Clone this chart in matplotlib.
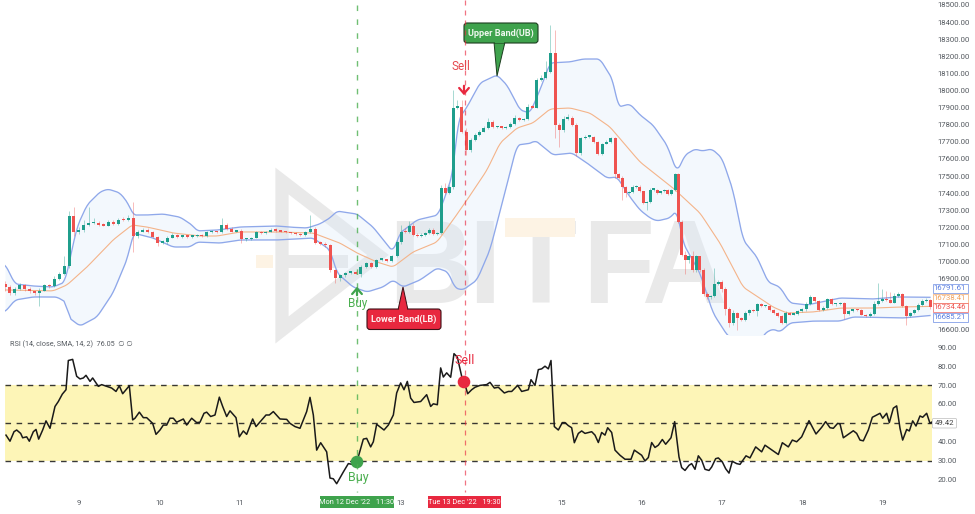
import numpy as np
import matplotlib
matplotlib.use("Agg")
import matplotlib.pyplot as plt
from matplotlib.patches import Polygon, Rectangle, FancyBboxPatch, Circle

plt.rcParams['font.family'] = ['Roboto', 'DejaVu Sans']

# ---- data (time unit: 1/241 of a day, day 9 at 237) ----
day_labels = ['9', '10', '11', '13', '15', '16', '17', '18', '19']
day_ticks = [237, 478, 719, 1201, 1685, 1925, 2166, 2407, 2648]

price_ticks = [16600, 16900, 17000, 17100, 17200, 17300, 17400, 17500, 17600, 17700, 17800,
               17900, 18000, 18100, 18200, 18300, 18400, 18500]
rsi_ticks = [20, 30, 40, 60, 70, 80, 90]

first_open = 16870
closes = [
 16850,16815,16840,16860,16840,16825,16815,16830,16860,16855,
 16900,16930,16975,17265,17170,17185,17215,17225,17225,17215,
 17210,17230,17220,17245,17240,17255,17150,17175,17185,17170,
 17145,17110,17115,17140,17155,17145,17150,17145,17150,17155,
 17150,17170,17175,17172,17215,17190,17175,17180,17130,17130,
 17140,17170,17165,17175,17185,17180,17175,17170,17165,17160,
 17155,17170,17190,17110,17105,17095,16950,16905,16920,16935,
 16935,16930,16970,16990,16970,17010,17010,17005,17030,17115,
 17175,17170,17205,17155,17150,17155,17165,17185,17160,17165,
 17430,17400,17435,17900,17905,17760,17650,17710,17740,17760,
 17780,17815,17785,17790,17780,17785,17805,17840,17825,17835,
 17905,17900,18060,18075,18110,18220,17800,17770,17835,17840,
 17800,17635,17720,17730,17730,17700,17630,17690,17700,17720,
 17510,17490,17435,17400,17405,17435,17435,17410,17340,17350,
 17420,17420,17400,17410,17420,17395,17420,17510,17230,17040,
 17010,17030,16950,17030,16950,16810,16790,16800,16870,16880,
 16840,16725,16640,16700,16670,16660,16700,16715,16710,16750,
 16740,16740,16715,16700,16680,16640,16700,16690,16695,16710,
 16720,16750,16790,16770,16715,16730,16780,16750,16750,16760,
 16695,16710,16720,16715,16690,16680,16695,16750,16770,16780,
 16775,16760,16800,16810,16740,16680,16700,16715,16745,16770,
 16775,16735]
wick_up = [
 15,10,10,15,10,10,5,15,10,10,
 15,10,60,30,55,15,25,95,30,10,
 10,15,10,10,15,15,95,10,10,10,
 10,5,10,10,10,5,5,5,5,5,
 5,10,10,5,40,10,10,5,10,5,
 5,10,10,5,10,10,5,5,5,5,
 5,10,80,10,10,10,5,5,5,5,
 5,10,10,10,5,5,5,5,10,10,
 40,20,30,20,10,10,10,10,10,10,
 20,30,15,100,40,40,20,10,10,10,
 10,25,10,5,5,5,10,15,5,5,
 15,10,15,15,60,160,135,10,15,20,
 10,10,10,10,5,5,5,5,10,10,
 10,10,10,5,10,10,10,10,5,5,
 10,5,5,5,5,5,5,10,10,10,
 20,10,30,10,5,10,10,5,90,10,
 10,10,10,15,5,5,10,10,5,10,
 5,5,5,5,5,5,10,5,5,5,
 10,15,15,5,5,10,5,5,5,5,
 5,5,5,5,5,5,10,20,105,60,
 50,45,15,10,5,5,5,10,15,10,
 10,5]
wick_down = [
 20,10,10,5,10,10,10,75,5,10,
 5,5,10,10,20,10,10,5,5,5,
 5,5,5,5,5,5,95,15,5,5,
 5,20,10,10,5,5,5,5,5,5,
 5,5,5,5,5,5,5,5,20,10,
 5,5,5,5,5,5,5,5,5,5,
 5,5,5,10,10,10,10,30,20,10,
 5,5,20,5,10,5,5,5,5,5,
 10,5,5,5,5,5,5,5,5,5,
 5,5,5,10,10,10,30,10,5,5,
 5,5,5,5,5,5,5,5,5,5,
 5,5,5,5,5,5,80,100,10,10,
 10,20,10,5,5,5,5,5,5,5,
 20,10,75,20,5,5,5,5,5,40,
 5,5,5,5,5,5,5,5,5,10,
 80,20,10,10,10,10,10,10,5,5,
 20,40,20,10,70,10,10,10,5,30,
 5,5,5,5,5,5,5,5,5,10,
 5,10,5,5,5,5,5,5,10,5,
 30,5,5,5,5,5,5,5,5,5,
 5,5,5,5,5,50,5,5,5,5,
 5,10]
bar_anchor_index = [0, 13, 26, 66, 79, 90, 93, 115, 116, 130, 147, 148, 162, 181, 196, 211]
bar_anchor_time = [15, 207, 399, 990, 1191, 1323, 1359, 1650, 1665, 1845, 2025, 2034, 2187, 2418, 2610, 2790]

upper_t = [15,45,99,159,195,204,231,261,300,324,360,384,399,441,489,540,576,591,651,720,831,861,921,960,
           990,1011,1071,1119,1179,1200,1251,1314,1335,1359,1374,1401,1440,1491,1521,1560,1590,1620,1650,
           1710,1749,1800,1839,1854,1890,1920,1959,2001,2031,2055,2085,2106,2136,2166,2199,2229,2271,2304,
           2340,2370,2421,2520,2619,2691,2790]
upper = [16986,16869,16857,16851,16880,16962,17202,17331,17407,17424,17401,17342,17272,17272,17278,17260,
         17214,17179,17184,17202,17208,17202,17196,17220,17255,17295,17278,17202,17056,17167,17243,17272,
         17377,17518,17827,17903,18044,18091,18032,17886,17868,18003,18161,18167,18184,18184,18061,17903,
         17921,17857,17798,17681,17523,17623,17658,17646,17658,17605,17418,17126,17027,16880,16851,16758,
         16746,16787,16781,16793,16791]
middle_t = [15,159,201,261,339,396,441,519,600,651,720,831,939,1020,1071,1131,1179,1239,1311,1359,1401,1461,
            1500,1551,1599,1650,1710,1770,1830,1881,1920,2019,2100,2160,2229,2319,2361,2439,2520,2619,2700,2790]
middle = [16834,16828,16863,16968,17126,17214,17202,17167,17149,17149,17173,17173,17167,17108,17050,16997,
          16968,17056,17114,17243,17360,17535,17693,17781,17810,17892,17898,17868,17787,17670,17582,17430,
          17284,17108,16851,16734,16699,16705,16728,16728,16734,16738]
lower_t = [15,45,99,171,201,204,240,291,339,384,399,459,519,570,591,660,720,831,939,990,1011,1059,1101,1149,
           1179,1209,1260,1311,1344,1365,1389,1431,1470,1509,1551,1596,1605,1659,1716,1761,1821,1851,1890,
           1920,1950,1971,2010,2031,2049,2100,2139,2181,2235,2265,2295,2319,2340,2370,2439,2520,2559,2709,2790]
lower = [16705,16775,16793,16793,16758,16676,16623,16676,16816,17027,17167,17138,17085,17085,17114,17108,
         17126,17126,17138,17068,16933,16851,16822,16851,16892,16851,16892,16962,16939,16845,16834,16892,
         17068,17360,17681,17693,17710,17623,17635,17576,17488,17494,17377,17301,17255,17237,17255,17301,
         17108,16933,16699,16571,16483,16483,16582,16606,16588,16641,16652,16652,16676,16670,16685]

rsi_t = [18,30,42,50,62,68,80,88,100,108,116,128,138,150,165,175,187,198,205,218,230,240,250,258,270,278,295,
         305,320,335,348,358,368,388,398,405,418,430,440,458,468,480,490,500,510,520,530,550,560,575,590,600,
         612,620,632,645,658,668,680,690,708,718,730,740,758,768,798,808,820,840,860,870,885,900,920,930,940,
         950,962,980,990,1000,1010,1030,1045,1060,1072,1090,1100,1112,1120,1130,1152,1165,1180,1190,1202,1212,
         1222,1232,1242,1262,1280,1292,1300,1312,1322,1330,1340,1352,1362,1372,1385,1392,1403,1415,1425,1440,
         1460,1470,
         1483,1495,1513,1525,1535,1553,1565,1585,1593,1605,1615,1625,1635,1645,1653,1663,1675,1687,1695,1705,
         1715,1723,1735,1745,1755,1775,1785,1795,1805,1815,1823,1835,1845,1860,1875,1893,1903,1925,1935,1945,
         1955,1965,1975,1987,1997,2013,2024,2037,2045,2055,2067,2075,2085,2095,2105,2115,2127,2135,2147,2155,
         2167,2177,2187,2197,2210,2220,2238,2250,2267,2285,2295,2335,2347,2365,2377,2390,2405,2427,2448,2465,
         2477,2490,2500,2513,2520,2530,2560,2570,2580,2590,2605,2617,2640,2648,2660,2668,2680,2690,2700,2708,
         2720,2728,2738,2748,2760,2768,2780,2790,2795]
rsi = [43.6,40.4,45.4,46.3,44.5,42.2,42.7,40.4,45.4,46.6,41.5,46.3,51.1,47.2,58.7,61.3,65.2,67.5,82.9,83.5,
       74.6,73.2,73.7,75.1,71.9,73.7,69.3,70.2,69.3,68.4,66.6,69.6,65.4,69.6,51.6,52.5,55.7,52.8,52.8,49.8,
       44.0,46.3,48.9,48.9,52.5,52.5,50.4,52.1,48.9,52.5,50.2,50.4,55.1,55.7,53.4,54.2,63.6,58.7,53.4,56.4,
       52.8,42.7,45.8,44.0,52.1,48.1,54.2,54.2,56.0,52.1,51.9,49.8,48.1,47.2,56.0,63.5,54.2,35.7,39.6,34.8,
       21.0,20.6,18.0,24.2,28.6,28.1,30.4,41.5,41.9,37.4,40.1,49.3,46.3,48.9,54.2,65.8,71.1,67.5,71.9,63.1,
       60.8,61.3,64.9,58.7,60.1,59.6,79.0,74.2,76.4,74.1,86.5,84.7,74.6,71.9,65.4,67.5,68.8,69.8,70.2,71.4,
       68.4,68.8,65.8,66.6,66.6,69.8,66.6,67.5,72.8,69.8,78.1,78.5,79.9,78.5,82.9,48.1,46.3,50.2,50.2,48.6,
       47.5,39.6,44.5,45.8,44.5,45.4,43.6,39.7,45.0,43.6,47.5,45.0,35.7,33.0,30.9,30.9,35.7,33.0,30.0,31.8,
       39.7,37.1,38.3,41.3,38.8,42.2,50.7,32.1,26.5,25.0,27.7,28.6,25.6,32.7,30.4,25.6,25.0,26.8,31.2,31.6,
       29.5,25.9,23.6,29.8,28.6,28.2,32.7,31.6,37.4,34.8,38.3,33.4,39.6,37.4,41.0,40.1,42.7,51.2,44.2,47.7,
       50.7,47.5,47.2,49.8,49.5,42.2,45.9,44.5,41.0,40.6,46.3,53.0,55.1,52.5,55.1,50.2,57.8,59.0,47.2,41.0,
       46.6,45.8,51.1,48.4,53.7,53.0,55.1,49.8,50.4]

last_values = [('16791.61', '#5b7fe0', 288), ('16738.41', '#f2a35e', 298),
               ('16734.46', '#ef5350', 307), ('16685.21', '#5b7fe0', 317)]

# ---- layout ----
W, H = 975, 514
fig = plt.figure(figsize=(W / 100, H / 100), dpi=100, facecolor='white')

def rect(l, t, r, b):
    return [l / W, 1 - b / H, (r - l) / W, (b - t) / H]

def soft(ts, vs, grid, win=7):
    """Round the corners of a band line when drawing it."""
    dense = np.interp(grid, ts, vs)
    pad = win // 2
    padded = np.r_[np.full(pad, dense[0]), dense, np.full(pad, dense[-1])]
    return np.convolve(padded, np.ones(win) / win, mode='valid')

GREEN, RED = '#1f9e8c', '#ef5350'
LABEL_GREEN, LABEL_RED = '#3fa34d', '#e8283f'
TXT = '#555a60'

# ---- watermark (background layer) ----
wm = fig.add_axes([0, 0, 1, 1], zorder=0)
wm.set_xlim(0, W); wm.set_ylim(H, 0); wm.axis('off')
WM = '#e9e9e9'; WMO = '#fdf3e4'
wm.add_patch(Polygon([(282, 181), (378, 255), (282, 330)], closed=True, fill=False, ec=WM, lw=9.5, joinstyle='miter'))
wm.add_patch(Rectangle((288, 255), 60, 13, fc=WM, ec='none'))
wm.add_patch(Rectangle((256, 255), 17, 13, fc=WMO, ec='none'))
for ch, xc in [('B', 431), ('I', 485), ('T', 541), ('F', 618), ('A', 684)]:
    wm.text(xc, 303, ch, fontsize=85, fontweight='bold', color=WM, ha='center', va='baseline',
            family='Liberation Sans')
wm.add_patch(Rectangle((505, 218), 70, 19, fc=WMO, ec='none', zorder=5))

# ---- price panel ----
ax = fig.add_axes(rect(5, 0, 932, 335), zorder=1)
ax.patch.set_alpha(0)
ax.set_xlim(15, 2796)
ax.set_ylim(16570.6, 18529)

grid = np.arange(15, 2791, 3)
up_line, mid_line, low_line = soft(upper_t, upper, grid), soft(middle_t, middle, grid), soft(lower_t, lower, grid)
ax.fill_between(grid, low_line, up_line, color='#dbeafb', alpha=0.32, lw=0, zorder=1)
ax.plot(grid, up_line, color='#8fa8ea', lw=0.95, zorder=2)
ax.plot(grid, low_line, color='#8fa8ea', lw=0.95, zorder=2)
ax.plot(grid, mid_line, color='#f4b48a', lw=0.8, zorder=2)

c = np.array(closes, float)
o = np.r_[first_open, c[:-1]]
t = np.interp(np.arange(len(c)), bar_anchor_index, bar_anchor_time)
top = np.maximum(o, c); bot = np.minimum(o, c)
cols = [GREEN if a >= b else RED for a, b in zip(c, o)]
ax.vlines(t, bot - np.array(wick_down), top + np.array(wick_up), colors=cols, lw=0.6, alpha=0.45, zorder=3)
ax.bar(t, np.maximum(top - bot, 8), bottom=bot, width=9, color=cols, lw=0, zorder=4)

ax.yaxis.tick_right()
ax.set_yticks(price_ticks)
ax.set_yticklabels([f'{v:.2f}' for v in price_ticks])
ax.tick_params(axis='y', length=0, labelsize=5.6, labelcolor=TXT, pad=4)
ax.set_xticks([])
for s in ax.spines.values():
    s.set_visible(False)

# ---- RSI panel ----
ar = fig.add_axes(rect(5, 340, 932, 490), zorder=1)
ar.patch.set_alpha(0)
ar.set_xlim(15, 2796)
ar.set_ylim(14.7, 93.7)
ar.axhspan(30, 70, color='#fdf5b7', lw=0, zorder=1)
for lv in (30, 50, 70):
    ar.axhline(lv, color='#222222', lw=1.0, dashes=(4, 4), zorder=2, alpha=0.9)
ar.plot(rsi_t, rsi, color='#1a1a1a', lw=1.1, zorder=3, solid_joinstyle='round')
ar.yaxis.tick_right()
ar.set_yticks(rsi_ticks)
ar.set_yticklabels([f'{v:.2f}' for v in rsi_ticks])
ar.tick_params(axis='y', length=0, labelsize=5.6, labelcolor=TXT, pad=4)
ar.set_xticks(day_ticks)
ar.set_xticklabels(day_labels)
ar.tick_params(axis='x', length=0, labelsize=5.6, labelcolor=TXT, pad=7)
for s in ar.spines.values():
    s.set_visible(False)

# ---- annotation layer in pixel layout ----
ov = fig.add_axes([0, 0, 1, 1], zorder=5)
ov.set_xlim(0, W); ov.set_ylim(H, 0); ov.axis('off'); ov.patch.set_alpha(0)

ov.plot([357, 357], [5, 492], color='#4caf50', lw=1.0, dashes=(4, 6), alpha=0.8)
ov.plot([465, 465], [0, 492], color=LABEL_RED, lw=0.9, dashes=(4, 4), alpha=0.65)

ov.text(10, 344, 'RSI (14, close, SMA, 14, 2)  76.05  ∅ ∅', fontsize=5.2, color=TXT, va='center')

# callouts
ov.add_patch(Polygon([(494, 42), (505, 42), (497, 76)], fc=LABEL_GREEN, ec='#1c3d1f', lw=0.7))
ov.add_patch(FancyBboxPatch((465, 24), 72, 18, boxstyle='round,pad=1,rounding_size=3', fc=LABEL_GREEN, ec='#1c3d1f', lw=0.8))
ov.add_patch(Polygon([(398, 310), (408, 310), (403, 287)], fc=LABEL_RED, ec='#3d1016', lw=0.7))
ov.add_patch(FancyBboxPatch((368, 310), 72, 18.5, boxstyle='round,pad=1,rounding_size=3', fc=LABEL_RED, ec='#3d1016', lw=0.8))
ov.add_patch(Rectangle((495, 40), 9, 3, fc=LABEL_GREEN, ec='none'))
ov.add_patch(Rectangle((399, 308), 8, 3, fc=LABEL_RED, ec='none'))
ov.text(501, 33, 'Upper Band(UB)', color='#eef7ee', fontsize=6.6, fontweight='bold', ha='center', va='center')
ov.text(404, 319, 'Lower Band(LB)', color='#fff0f0', fontsize=6.6, fontweight='bold', ha='center', va='center')

# buy / sell arrows
ov.annotate('', xy=(357, 284), xytext=(357, 298), arrowprops=dict(arrowstyle='->,head_width=0.35,head_length=0.4', color=LABEL_GREEN, lw=1.6))
ov.text(358, 304, 'Buy', color='#4caf50', fontsize=8.5, ha='center', va='center')
ov.annotate('', xy=(464, 98), xytext=(464, 83), arrowprops=dict(arrowstyle='->,head_width=0.35,head_length=0.4', color=LABEL_RED, lw=1.6))
ov.text(461, 67, 'Sell', color='#e5484d', fontsize=8.5, ha='center', va='center')

# RSI signals
ov.add_patch(Circle((357, 462), 6.3, fc='#3fa34d', ec='none'))
ov.add_patch(Circle((464, 382), 6.3, fc=LABEL_RED, ec='none'))
ov.text(358, 477, 'Buy', color='#4caf50', fontsize=9, ha='center', va='center')
ov.text(465, 360, 'Sell', color=LABEL_RED, fontsize=9, ha='center', va='center')

# time labels on the axis
ov.add_patch(Rectangle((320, 496), 74, 12, fc=LABEL_GREEN, ec='none'))
ov.add_patch(Rectangle((428, 496), 73, 12, fc=LABEL_RED, ec='none'))
ov.text(357, 502, "Mon 12 Dec '22   11:30", color='white', fontsize=5.3, ha='center', va='center')
ov.text(464.5, 502, "Tue 13 Dec '22   19:30", color='white', fontsize=5.3, ha='center', va='center')

# last-value boxes
for txt, col, y in last_values:
    ov.add_patch(Rectangle((932.5, y - 4.5), 35, 9, fc='white', ec=col, lw=0.5, alpha=0.9))
    ov.text(950, y, txt, color=col, fontsize=5.6, ha='center', va='center')
ov.add_patch(FancyBboxPatch((933, 419), 23, 8.5, boxstyle='round,pad=0.5,rounding_size=1', fc='white', ec='#bbbbbb', lw=0.5))
ov.text(944.5, 423.3, '49.42', color='#444444', fontsize=5.6, ha='center', va='center')

fig.savefig('out.png', dpi=100)
